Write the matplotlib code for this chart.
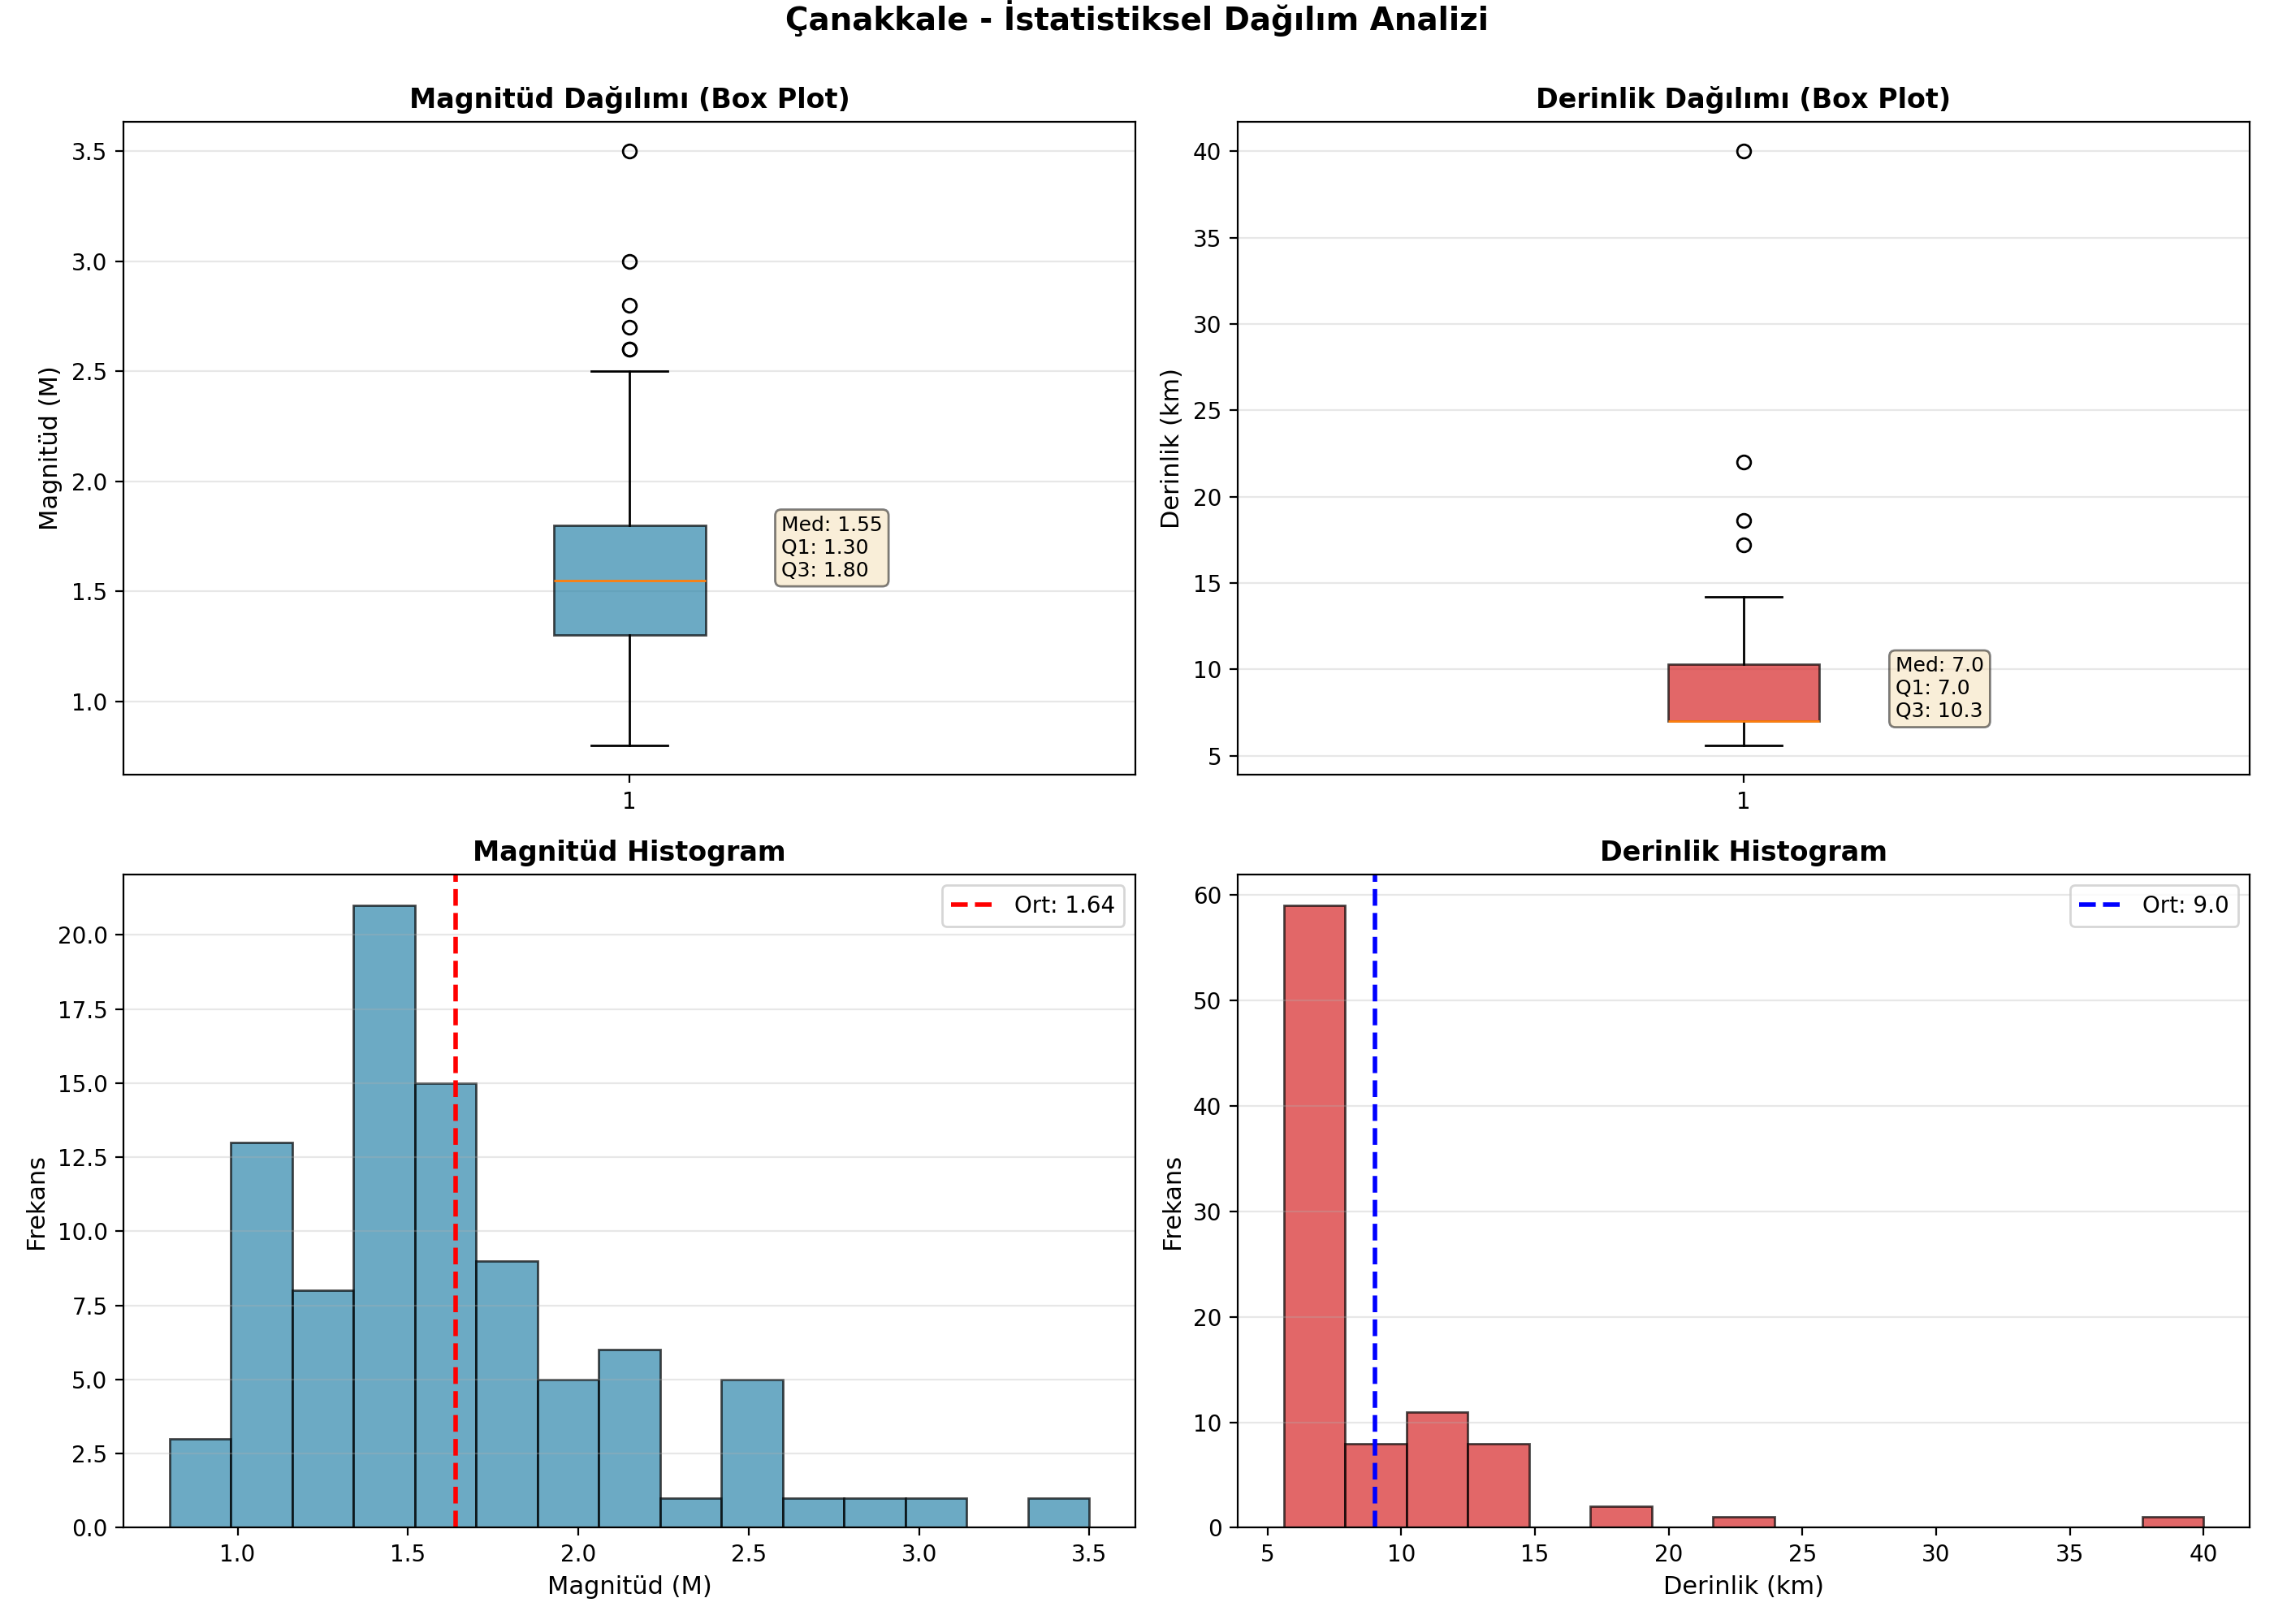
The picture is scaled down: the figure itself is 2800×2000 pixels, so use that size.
import matplotlib.pyplot as plt
import numpy as np

# box plot summaries
mag_stats = {'med': 1.55, 'q1': 1.30, 'q3': 1.80, 'whislo': 0.8, 'whishi': 2.5}
mag_fliers = [2.6, 2.6, 2.7, 2.8, 3.0, 3.5]
dep_stats = {'med': 7.0, 'q1': 7.0, 'q3': 10.3, 'whislo': 5.6, 'whishi': 14.2}
dep_fliers = [17.2, 18.6, 22.0, 40.0]

# histogram bins and counts
mag_range = (0.8, 3.5)
mag_counts = [3, 13, 8, 21, 15, 9, 5, 6, 1, 5, 1, 1, 1, 0, 1]
mag_mean = 1.64
dep_range = (5.6, 40.0)
dep_counts = [59, 8, 11, 8, 0, 2, 0, 1, 0, 0, 0, 0, 0, 0, 1]
dep_mean = 9.0

blue = '#2E86AB'
red = '#d62728'

fig, axes = plt.subplots(2, 2, figsize=(14, 10))
st = fig.suptitle('Çanakkale - İstatistiksel Dağılım Analizi', fontsize=14, fontweight='bold')


def box_panel(ax, stats, fliers, color, title, ylabel, fmt):
    s = dict(stats)
    s['fliers'] = fliers
    s['label'] = '1'
    bp = ax.bxp([s], patch_artist=True, showfliers=True)
    for b in bp['boxes']:
        b.set_facecolor(color)
        b.set_alpha(0.7)
    ax.set_title(title, fontsize=12, fontweight='bold')
    ax.set_ylabel(ylabel, fontsize=11)
    ax.grid(True, axis='y', alpha=0.3)
    txt = 'Med: ' + fmt % stats['med'] + '\nQ1: ' + fmt % stats['q1'] + '\nQ3: ' + fmt % stats['q3']
    ax.text(1.15, stats['med'], txt, fontsize=9, va='bottom', ha='left',
            bbox=dict(boxstyle='round', facecolor='wheat', alpha=0.5))


def hist_panel(ax, rng, counts, mean, color, line_color, title, xlabel, label):
    edges = np.linspace(rng[0], rng[1], len(counts) + 1)
    centers = (edges[:-1] + edges[1:]) / 2
    ax.hist(centers, bins=edges, weights=counts, color=color, alpha=0.7, edgecolor='black')
    ax.axvline(mean, color=line_color, linestyle='--', linewidth=2, label=label)
    ax.set_title(title, fontsize=12, fontweight='bold')
    ax.set_xlabel(xlabel, fontsize=11)
    ax.set_ylabel('Frekans', fontsize=11)
    ax.legend(fontsize=10)
    ax.grid(True, axis='y', alpha=0.3)


box_panel(axes[0, 0], mag_stats, mag_fliers, blue, 'Magnitüd Dağılımı (Box Plot)', 'Magnitüd (M)', '%.2f')
box_panel(axes[0, 1], dep_stats, dep_fliers, red, 'Derinlik Dağılımı (Box Plot)', 'Derinlik (km)', '%.1f')
hist_panel(axes[1, 0], mag_range, mag_counts, mag_mean, blue, 'red', 'Magnitüd Histogram', 'Magnitüd (M)', 'Ort: %.2f' % mag_mean)
hist_panel(axes[1, 1], dep_range, dep_counts, dep_mean, red, 'blue', 'Derinlik Histogram', 'Derinlik (km)', 'Ort: %.1f' % dep_mean)

plt.tight_layout()
st.set_y(1.0)
plt.savefig('out.png', dpi=200)
